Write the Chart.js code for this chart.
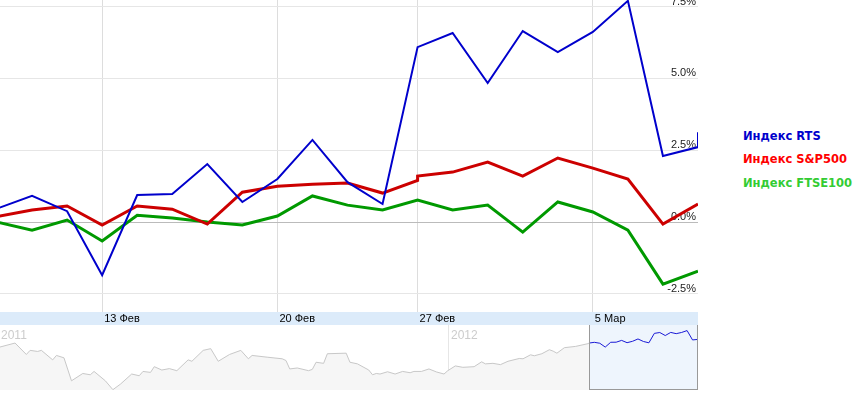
<!DOCTYPE html>
<html>
<head>
<meta charset="utf-8">
<script src="https://cdn.jsdelivr.net/npm/chart.js@4.4.1/dist/chart.umd.min.js"></script>
<style>
    body { margin: 0; background: #fff; width: 860px; height: 396px; overflow: hidden; position: relative; }
    #main { position: absolute; left: 0; top: 0; }
    #nav { position: absolute; left: 0; top: 325px; }
    .legend { position: absolute; left: 743px; font: bold 11.5px "DejaVu Sans", sans-serif; white-space: nowrap; }
</style>
</head>
<body>
<canvas id="main" width="698" height="326"></canvas>
<canvas id="nav" width="698" height="65"></canvas>
<div class="legend" style="top:129px;color:#0000cc">Индекс RTS</div>
<div class="legend" style="top:152px;color:#ff0000">Индекс S&amp;P500</div>
<div class="legend" style="top:176px;color:#33cc33">Индекс FTSE100</div>
<script>
// trading-day index -> % change since start
const rtsX = [0, 1, 2, 3, 4, 5, 6, 7, 8, 9, 10, 11, 12, 13, 14, 15, 16, 17, 18, 19, 20, 20];
const rts = [0.47, 0.91, 0.38, -1.85, 0.94, 0.98, 2.02, 0.70, 1.50, 2.86, 1.39, 0.63, 6.09, 6.58, 4.84, 6.65, 5.92, 6.62, 7.70, 2.30, 2.61, 3.13];
const spX = [0, 1, 2, 3, 4, 5, 6, 7, 8, 9, 10, 11, 12, 12, 13, 14, 15, 16, 17, 18, 19, 20];
const sp500 = [0.19, 0.42, 0.56, -0.10, 0.56, 0.45, -0.07, 1.04, 1.25, 1.32, 1.36, 1.01, 1.45, 1.60, 1.74, 2.09, 1.60, 2.23, 1.88, 1.50, -0.07, 0.63];
const ftseX = [0, 1, 2, 3, 4, 5, 6, 7, 8, 9, 10, 11, 12, 13, 14, 15, 16, 17, 18, 19, 20];
const ftse = [0.0, -0.28, 0.07, -0.66, 0.24, 0.14, 0.0, -0.10, 0.21, 0.91, 0.59, 0.42, 0.77, 0.42, 0.59, -0.35, 0.70, 0.35, -0.28, -2.16, -1.71];

const xTickIndex = [3, 8, 12, 17];
const xTickLabels = ["13 Фев", "20 Фев", "27 Фев", "5 Мар"];
const yTicks = [-2.5, 0, 2.5, 5, 7.5];

// navigator: RTS history, days from 1 Jan 2012 -> index level
const navDays = [-119, -115, -112, -111, -109, -108, -105, -104, -102, -100, -97, -95, -94, -91, -89, -87, -84, -82, -81, -79,
    -78, -76, -74, -72, -69, -68, -65, -63, -61, -58, -55, -53, -52, -48, -44, -43, -42, -40, -37, -36,
    -35, -33, -32, -27, -26, -24, -21, -20, -19, -18, -16, -14, -12, -10, -9, -7, -5, -3, -1, 0,
    2, 4, 7, 9, 10, 12, 14, 16, 19, 20, 22, 23, 25, 27, 28, 29, 31, 34, 37.5];
const navLevels = [1571, 1608, 1502, 1540, 1530, 1540, 1452, 1493, 1471, 1258, 1326, 1314, 1345, 1258, 1176, 1227, 1321, 1305, 1345, 1336,
    1389, 1358, 1371, 1352, 1452, 1439, 1540, 1556, 1439, 1502, 1540, 1462, 1493, 1477, 1462, 1446, 1368, 1377, 1352, 1364,
    1430, 1420, 1509, 1514, 1430, 1415, 1358, 1314, 1326, 1321, 1342, 1321, 1345, 1333, 1345, 1345, 1368, 1340, 1321, 1352,
    1396, 1383, 1389, 1434, 1415, 1420, 1408, 1439, 1465, 1462, 1499, 1490, 1509, 1546, 1533, 1514, 1565, 1577, 1604];
const rtsBase = 1600;
const windowStart = 37.5;
const windowEnd = 66.5;

const pts = (xs, ys) => xs.map((x, i) => ({ x: x, y: ys[i] }));

const noPad = (s) => {
    s.paddingTop = 0;
    s.paddingBottom = 0;
    s.paddingLeft = 0;
    s.paddingRight = 0;
};

const bandPlugin = {
    id: "band",
    beforeDraw(chart) {
        const { ctx, chartArea } = chart;
        ctx.save();
        ctx.fillStyle = "#ffffff";
        ctx.fillRect(0, 0, chart.width, chart.height);
        ctx.fillStyle = "#dcebfa";
        ctx.fillRect(0, chartArea.bottom, chartArea.right, 13);
        ctx.fillStyle = "#a0a0a0";
        ctx.fillRect(0, chartArea.bottom + 13, chartArea.right, 1);
        ctx.restore();
    },
};

new Chart(document.getElementById("main").getContext("2d"), {
    type: "line",
    data: {
        datasets: [
            { label: "Индекс RTS", data: pts(rtsX, rts), borderColor: "#0000cc", borderWidth: 2 },
            { label: "Индекс S&P500", data: pts(spX, sp500), borderColor: "#cc0000", borderWidth: 3 },
            { label: "Индекс FTSE100", data: pts(ftseX, ftse), borderColor: "#009900", borderWidth: 3 },
        ],
    },
    options: {
        responsive: false,
        animation: false,
        events: [],
        layout: { padding: 0 },
        elements: { point: { radius: 0 }, line: { tension: 0, borderJoinStyle: "miter" } },
        plugins: { legend: { display: false }, tooltip: { enabled: false } },
        scales: {
            x: {
                type: "linear",
                min: 3 / 35,
                max: 20,
                afterBuildTicks: (s) => { s.ticks = xTickIndex.map((v) => ({ value: v })); },
                afterFit: (s) => { s.height = 14; noPad(s); },
                grid: { color: "#dddddd", drawTicks: false },
                border: { display: false },
                ticks: {
                    align: "start",
                    labelOffset: 2,
                    padding: 0,
                    maxRotation: 0,
                    color: "#000",
                    font: { family: "Liberation Sans", size: 11 },
                    callback: (v) => xTickLabels[xTickIndex.indexOf(v)],
                },
            },
            y: {
                position: "right",
                min: -3.13,
                max: 7.73,
                afterBuildTicks: (s) => { s.ticks = yTicks.map((v) => ({ value: v })); },
                afterFit: (s) => { s.width = 0; noPad(s); },
                grid: {
                    drawTicks: false,
                    color: (c) => (c.tick && c.tick.value === 0 ? "#bbbbbb" : "#e6e6e6"),
                },
                border: { display: false },
                ticks: {
                    mirror: true,
                    padding: -2,
                    labelOffset: -5,
                    color: "#222",
                    font: { family: "Liberation Sans", size: 11 },
                    callback: (v) => v.toFixed(1) + "%",
                },
            },
        },
    },
    plugins: [bandPlugin],
});

const navPlugin = {
    id: "navDecor",
    beforeDatasetsDraw(chart) {
        const { ctx, chartArea: a, scales: { x } } = chart;
        ctx.save();
        ctx.fillStyle = "#ffffff";
        ctx.fillRect(0, 0, chart.width, chart.height);
        const x0 = Math.round(x.getPixelForValue(0)) + 0.5;
        ctx.strokeStyle = "#e6e6e6";
        ctx.lineWidth = 1;
        ctx.beginPath();
        ctx.moveTo(x0, 0);
        ctx.lineTo(x0, a.bottom);
        ctx.stroke();
        const w1 = Math.round(x.getPixelForValue(windowStart));
        const w2 = Math.round(x.getPixelForValue(windowEnd));
        ctx.fillStyle = "#eef5fd";
        ctx.fillRect(w1, 0, w2 - w1, a.bottom);
        ctx.fillStyle = "#cccccc";
        ctx.font = "12px 'Liberation Sans'";
        ctx.textBaseline = "alphabetic";
        ctx.fillText("2011", 1, 14);
        ctx.fillText("2012", x0 + 2.5, 14);
        ctx.restore();
    },
    afterDatasetsDraw(chart) {
        const { ctx, chartArea: a, scales: { x } } = chart;
        const w1 = Math.round(x.getPixelForValue(windowStart));
        const w2 = Math.round(x.getPixelForValue(windowEnd));
        ctx.save();
        ctx.strokeStyle = "#999999";
        ctx.lineWidth = 1;
        ctx.strokeRect(w1 + 0.5, -0.5, w2 - w1 - 1, a.bottom);
        ctx.restore();
    },
};

const navBlue = rts.map((p, i) => ({
    x: windowStart + rtsX[i] * (windowEnd - windowStart) / 20,
    y: rtsBase * (1 + p / 100),
}));

new Chart(document.getElementById("nav").getContext("2d"), {
    type: "line",
    data: {
        datasets: [
            {
                data: pts(navDays, navLevels),
                borderColor: "#c8c8c8",
                borderWidth: 1,
                fill: "start",
                backgroundColor: "#f6f6f6",
            },
            { data: navBlue, borderColor: "#1a1ad6", borderWidth: 1, fill: false },
        ],
    },
    options: {
        responsive: false,
        animation: false,
        events: [],
        layout: { padding: 0 },
        elements: { point: { radius: 0 }, line: { tension: 0 } },
        plugins: { legend: { display: false }, tooltip: { enabled: false } },
        scales: {
            x: { type: "linear", display: false, min: -119, max: 66.5 },
            y: { display: false, min: 1173, max: 1775 },
        },
    },
    plugins: [navPlugin],
});
</script>
</body>
</html>
